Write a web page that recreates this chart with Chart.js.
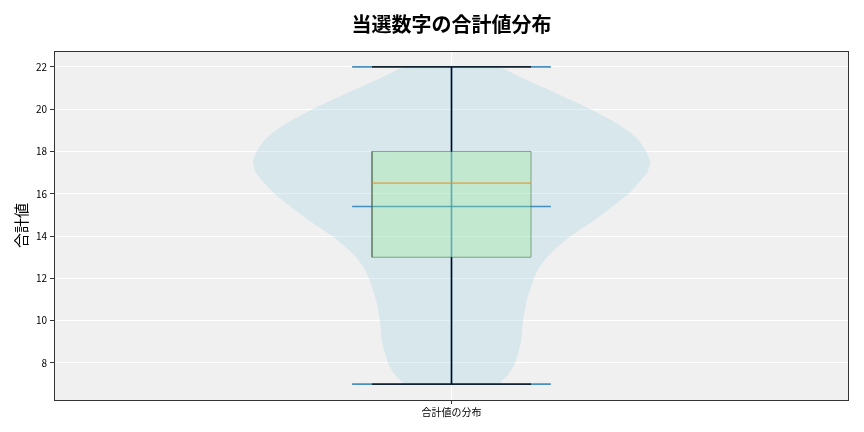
<!DOCTYPE html>
<html>
<head>
<meta charset="utf-8">
<script src="https://cdn.jsdelivr.net/npm/chart.js@4.4.1/dist/chart.umd.min.js"></script>
<style>
    html, body { margin: 0; padding: 0; background: #ffffff; }
    #wrap { width: 864px; height: 432px; }
</style>
</head>
<body>
<div id="wrap"><canvas id="sumChart"></canvas></div>
<script>
// Values
const chartTitle = '当選数字の合計値分布';
const yAxisTitle = '合計値';
const categoryLabel = '合計値の分布';
const yTicks = [8, 10, 12, 14, 16, 18, 20, 22];

// Violin profile: sum values and relative density (1 = widest point)
const kdeY = [7, 7.5, 8, 9, 10, 11, 12, 12.5, 13, 13.5, 14, 14.5, 15, 15.5, 16, 16.5,
    17, 17.5, 18, 18.5, 19, 19.5, 20, 20.5, 21, 21.5, 22];
const kdeDensity = [0.24, 0.29, 0.32, 0.35, 0.36, 0.38, 0.415, 0.44, 0.48, 0.535, 0.60, 0.68,
    0.755, 0.825, 0.89, 0.94, 0.985, 1.0, 0.98, 0.945, 0.885, 0.80, 0.70, 0.585, 0.47, 0.35, 0.23];

// Box plot statistics
const whiskerLow = 7;
const q1 = 13;
const median = 16.5;
const q3 = 18;
const whiskerHigh = 22;
const meanValue = 15.4;

const pos = 1;             // category position on the x axis
const violinHalf = 0.25;   // violin half width at the widest point
const boxHalf = 0.1;
const extremaHalf = 0.125;

const blue = 'rgba(31, 119, 180, 0.8)';

Chart.defaults.font.family = "'Noto Sans CJK JP', 'Noto Sans', sans-serif";

/**
 * Axes background and the four-sided frame.
 */
const plotFrame = {
    id: 'plotFrame',
    beforeDraw(chart) {
        const { ctx, chartArea: a } = chart;
        ctx.save();
        ctx.fillStyle = '#f0f0f0';
        ctx.fillRect(a.left, a.top, a.right - a.left, a.bottom - a.top);
        ctx.restore();
    },
    afterDraw(chart) {
        const { ctx, chartArea: a } = chart;
        ctx.save();
        ctx.strokeStyle = '#333333';
        ctx.lineWidth = 1;
        ctx.strokeRect(a.left + 0.5, a.top + 0.5, a.right - a.left - 1, a.bottom - a.top);
        ctx.restore();
    }
};

// Violin outline: up the left side, down the right side
const violinPoints = kdeY.map((y, i) => ({ x: pos - kdeDensity[i] * violinHalf, y }))
    .concat(kdeY.map((y, i) => ({ x: pos + kdeDensity[i] * violinHalf, y })).reverse());

function hLine(y, half) {
    return [{ x: pos - half, y }, { x: pos + half, y }];
}

function lineSet(data, color, width, order) {
    return {
        data,
        borderColor: color,
        borderWidth: width,
        showLine: true,
        pointRadius: 0,
        fill: false,
        order
    };
}

const datasets = [
    {
        data: violinPoints,
        showLine: true,
        pointRadius: 0,
        borderWidth: 0,
        borderColor: 'rgba(0,0,0,0)',
        backgroundColor: 'rgba(173, 216, 230, 0.35)',
        fill: 'shape',
        tension: 0.15,
        order: 10
    },
    lineSet([{ x: pos, y: whiskerLow }, { x: pos, y: whiskerHigh }], blue, 1.6, 9),
    lineSet(hLine(whiskerLow, extremaHalf), blue, 1.6, 9),
    lineSet(hLine(whiskerHigh, extremaHalf), blue, 1.6, 9),
    lineSet(hLine(meanValue, extremaHalf), blue, 1.6, 9),
    {
        data: [
            { x: pos - boxHalf, y: q1 }, { x: pos + boxHalf, y: q1 },
            { x: pos + boxHalf, y: q3 }, { x: pos - boxHalf, y: q3 },
            { x: pos - boxHalf, y: q1 }
        ],
        showLine: true,
        pointRadius: 0,
        borderWidth: 1,
        borderColor: 'rgba(70, 100, 70, 0.55)',
        backgroundColor: 'rgba(144, 238, 144, 0.3)',
        fill: 'shape',
        order: 7
    },
    lineSet(hLine(median, boxHalf), 'rgba(240, 140, 30, 0.85)', 1.2, 5),
    lineSet([{ x: pos, y: whiskerLow }, { x: pos, y: q1 }], '#000000', 1.4, 4),
    lineSet([{ x: pos, y: q3 }, { x: pos, y: whiskerHigh }], '#000000', 1.4, 4),
    lineSet(hLine(whiskerLow, boxHalf), '#000000', 1.4, 4),
    lineSet(hLine(whiskerHigh, boxHalf), '#000000', 1.4, 4)
];

const ctx = document.getElementById('sumChart').getContext('2d');
new Chart(ctx, {
    type: 'scatter',
    data: { datasets },
    plugins: [plotFrame],
    options: {
        responsive: true,
        maintainAspectRatio: false,
        animation: false,
        layout: { padding: { left: 0, right: 15, top: 0, bottom: 0 } },
        plugins: {
            legend: { display: false },
            tooltip: { enabled: false },
            title: {
                display: true,
                text: chartTitle,
                fullSize: false,
                color: '#000000',
                font: { size: 20, weight: 'bold' },
                padding: { top: 12, bottom: 15 }
            }
        },
        scales: {
            x: {
                type: 'linear',
                min: 0.5,
                max: 1.5,
                afterFit: s => { s.height = 32; },
                afterBuildTicks: s => { s.ticks = [{ value: pos }]; },
                ticks: {
                    color: '#000000',
                    font: { size: 10 },
                    padding: 2,
                    maxRotation: 0,
                    callback: () => categoryLabel
                },
                grid: {
                    color: '#ffffff',
                    lineWidth: 1,
                    tickColor: '#333333',
                    tickLength: 4
                },
                border: { display: false }
            },
            y: {
                type: 'linear',
                min: 6.25,
                max: 22.75,
                afterFit: s => { s.width = 54; },
                afterBuildTicks: s => { s.ticks = yTicks.map(v => ({ value: v })); },
                ticks: {
                    color: '#000000',
                    font: { size: 10 },
                    padding: 3
                },
                grid: {
                    color: '#ffffff',
                    lineWidth: 1,
                    tickColor: '#333333',
                    tickLength: 4
                },
                border: { display: false },
                title: {
                    display: true,
                    text: yAxisTitle,
                    color: '#000000',
                    font: { size: 15 },
                    padding: { top: 12, bottom: 0 }
                }
            }
        }
    }
});
</script>
</body>
</html>
